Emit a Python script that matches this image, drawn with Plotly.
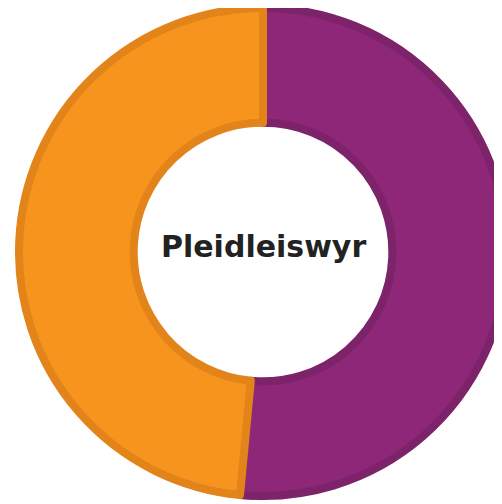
import plotly.graph_objects as go

labels = ["Pleidleisiodd", "Ni phleidleisiodd"]
values = [51.5, 48.5]
colors = ["#8E2777", "#F7941D"]
border_colors = ["#7D2369", "#E2841A"]
center_title = "Pleidleiswyr"

y0 = 1 - 488 / 504

fig = go.Figure(go.Pie(
    labels=labels,
    values=values,
    hole=0.53,
    sort=False,
    direction="clockwise",
    rotation=0,
    textinfo="none",
    hoverinfo="label+percent",
    domain=dict(x=[0, 1], y=[y0, 1]),
    marker=dict(colors=colors, line=dict(color=border_colors, width=8)),
    showlegend=False,
))

fig.add_annotation(
    text="<b>" + center_title + "</b>",
    x=0.5, y=(y0 + 1) / 2, xref="paper", yref="paper",
    showarrow=False, yshift=6,
    font=dict(family="DejaVu Sans", size=30, color="#222222"),
)

fig.update_layout(
    width=510, height=504,
    margin=dict(l=0, r=0, t=0, b=0),
    paper_bgcolor="white",
    plot_bgcolor="white",
)

fig.write_html("out.html")
